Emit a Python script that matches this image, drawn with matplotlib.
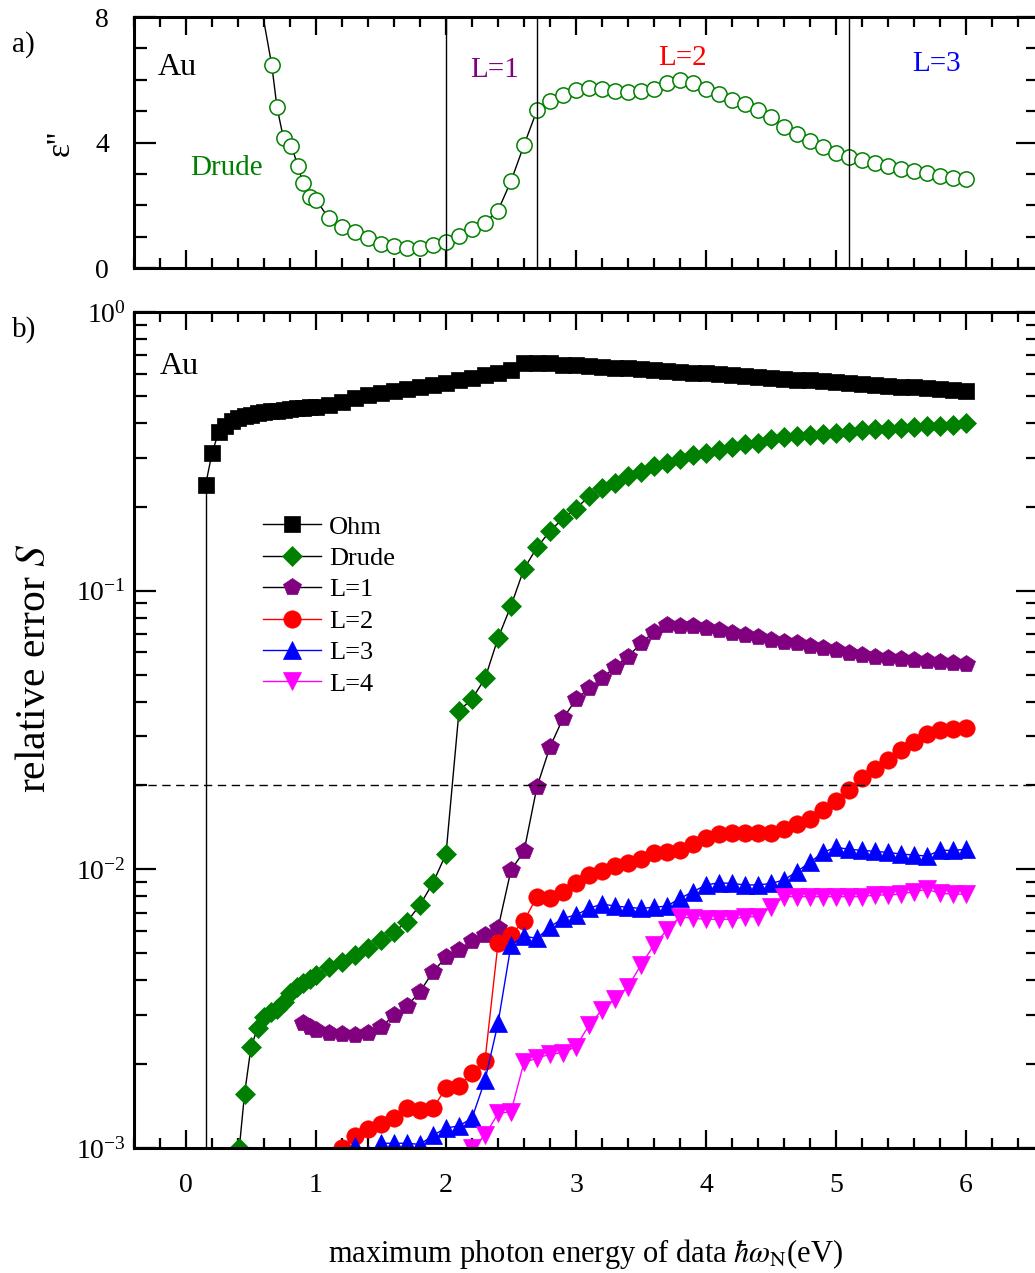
import numpy as np
import matplotlib
matplotlib.use('Agg')
import matplotlib.pyplot as plt
from matplotlib.ticker import MultipleLocator, LogLocator, NullFormatter

plt.rcParams['font.family'] = ['Liberation Serif', 'DejaVu Serif']
plt.rcParams['mathtext.fontset'] = 'stix'

# ---- data -----------------------------------------------------------------
# energy grid used above 1 eV (0.1 eV steps)
E_hi = [1.0, 1.1, 1.2, 1.3, 1.4, 1.5, 1.6, 1.7, 1.8, 1.9,
        2.0, 2.1, 2.2, 2.3, 2.4, 2.5, 2.6, 2.7, 2.8, 2.9,
        3.0, 3.1, 3.2, 3.3, 3.4, 3.5, 3.6, 3.7, 3.8, 3.9,
        4.0, 4.1, 4.2, 4.3, 4.4, 4.5, 4.6, 4.7, 4.8, 4.9,
        5.0, 5.1, 5.2, 5.3, 5.4, 5.5, 5.6, 5.7, 5.8, 5.9, 6.0]

# a) imaginary part of the dielectric function of Au
eps_E = [0.58, 0.66, 0.70, 0.75, 0.81, 0.86, 0.90, 0.95] + E_hi
eps2 = [8.3, 6.46, 5.12, 4.13, 3.90, 3.26, 2.70, 2.25,
        2.17, 1.58, 1.32, 1.14, 0.95, 0.76, 0.70, 0.63, 0.63, 0.73,
        0.84, 1.02, 1.23, 1.45, 1.83, 2.77, 3.92, 5.03, 5.33, 5.51,
        5.66, 5.74, 5.72, 5.64, 5.61, 5.64, 5.72, 5.91, 5.99, 5.91,
        5.72, 5.54, 5.37, 5.22, 5.05, 4.80, 4.50, 4.26, 4.04, 3.86,
        3.68, 3.54, 3.44, 3.35, 3.26, 3.17, 3.10, 3.02, 2.94, 2.88,
        2.83]
region_lines = [2.0, 2.7, 5.1]

# b) relative error S
ohm_E = [0.15, 0.2, 0.25, 0.3, 0.35, 0.4, 0.45, 0.5, 0.55, 0.6, 0.65,
         0.7, 0.75, 0.8, 0.85, 0.9, 0.95] + E_hi
ohm_S = [0.239, 0.311, 0.370, 0.390, 0.405, 0.415, 0.422, 0.428, 0.433,
         0.437, 0.440, 0.443, 0.446, 0.449, 0.451, 0.453, 0.455,
         0.457, 0.465, 0.477, 0.490, 0.502, 0.513, 0.520, 0.528, 0.537, 0.547,
         0.557, 0.568, 0.579, 0.592, 0.606, 0.620, 0.655, 0.657, 0.654, 0.648,
         0.644, 0.640, 0.636, 0.632, 0.628, 0.624, 0.619, 0.615, 0.611, 0.606,
         0.602, 0.598, 0.594, 0.589, 0.585, 0.581, 0.577, 0.572, 0.568, 0.564,
         0.560, 0.556, 0.552, 0.548, 0.544, 0.540, 0.536, 0.532, 0.528, 0.524,
         0.520]

drude_E = [0.41, 0.45, 0.5, 0.55, 0.6, 0.65, 0.7, 0.75, 0.8, 0.85, 0.9,
           0.95] + E_hi
drude_S = [1.0e-3, 1.56e-3, 2.30e-3, 2.69e-3, 2.96e-3, 3.08e-3, 3.15e-3,
           3.35e-3, 3.59e-3, 3.77e-3, 3.90e-3, 4.05e-3,
           4.18e-3, 4.45e-3, 4.66e-3, 4.92e-3, 5.21e-3, 5.58e-3, 5.97e-3,
           6.49e-3, 7.45e-3, 8.95e-3,
           0.01135, 0.0370, 0.0409, 0.0484, 0.0675, 0.0883, 0.1197, 0.143,
           0.1636, 0.1816,
           0.197, 0.218, 0.233, 0.244, 0.258, 0.267, 0.279, 0.286, 0.296, 0.307,
           0.313, 0.319, 0.328, 0.335, 0.340, 0.349, 0.355, 0.359, 0.362, 0.366,
           0.369, 0.372, 0.377, 0.379, 0.381, 0.385, 0.387, 0.389, 0.391, 0.393,
           0.398]

L1_E = [0.9, 0.95] + E_hi
L1_S = [2.80e-3, 2.72e-3,
        2.65e-3, 2.59e-3, 2.56e-3, 2.54e-3, 2.58e-3, 2.71e-3, 3.00e-3, 3.23e-3,
        3.64e-3, 4.29e-3,
        4.84e-3, 5.13e-3, 5.55e-3, 5.81e-3, 6.14e-3, 9.94e-3, 0.0116, 0.0198,
        0.0275, 0.0348,
        0.0407, 0.0446, 0.0484, 0.0533, 0.0580, 0.0647, 0.0712, 0.0753,
        0.0747, 0.0747,
        0.0732, 0.0723, 0.0707, 0.0693, 0.0680, 0.0665, 0.0656, 0.0647,
        0.0633, 0.0621,
        0.0612, 0.0599, 0.0590, 0.0580, 0.0574, 0.0567, 0.0564, 0.0559,
        0.0554, 0.0549,
        0.0546]

L2_E = E_hi[2:]
L2_S = [1.00e-3, 1.10e-3, 1.17e-3, 1.22e-3, 1.28e-3, 1.39e-3, 1.37e-3, 1.39e-3,
        1.64e-3, 1.67e-3, 1.86e-3, 2.06e-3, 5.42e-3, 5.81e-3, 6.54e-3, 7.98e-3,
        7.87e-3, 8.31e-3,
        8.90e-3, 9.55e-3, 9.89e-3, 0.0103, 0.0105, 0.0109, 0.0114, 0.0115,
        0.0117, 0.0123,
        0.0130, 0.0134, 0.0135, 0.0135, 0.0135, 0.0135, 0.0139, 0.0146,
        0.0152, 0.0163,
        0.0176, 0.0193, 0.0212, 0.0230, 0.0247, 0.0268, 0.0287, 0.0306,
        0.0316, 0.0318,
        0.0321]

L3_E = E_hi[3:]
L3_S = [1.02e-3, 0.95e-3, 1.04e-3, 1.04e-3, 1.04e-3, 1.03e-3, 1.11e-3,
        1.18e-3, 1.20e-3, 1.28e-3, 1.75e-3, 2.80e-3, 5.35e-3, 5.76e-3, 5.65e-3,
        6.22e-3, 6.67e-3,
        6.86e-3, 7.24e-3, 7.51e-3, 7.38e-3, 7.31e-3, 7.24e-3, 7.31e-3, 7.38e-3,
        7.87e-3, 8.31e-3,
        8.79e-3, 8.95e-3, 8.90e-3, 8.79e-3, 8.79e-3, 8.90e-3, 9.16e-3, 9.82e-3,
        0.0106, 0.0115,
        0.0120, 0.0118, 0.0117, 0.0116, 0.0115, 0.01135, 0.01125, 0.01116,
        0.0117, 0.0117,
        0.0118]

L4_E = E_hi[12:]
L4_S = [1.00e-3, 1.11e-3, 1.33e-3, 1.35e-3, 2.03e-3, 2.10e-3, 2.17e-3, 2.20e-3,
        2.31e-3, 2.76e-3, 3.13e-3, 3.42e-3, 3.79e-3, 4.54e-3, 5.35e-3, 6.06e-3,
        6.76e-3, 6.67e-3,
        6.62e-3, 6.62e-3, 6.62e-3, 6.76e-3, 6.76e-3, 7.34e-3, 7.98e-3, 7.98e-3,
        7.98e-3, 7.98e-3,
        7.98e-3, 7.98e-3, 7.98e-3, 8.09e-3, 8.09e-3, 8.15e-3, 8.31e-3, 8.48e-3,
        8.20e-3, 8.15e-3,
        8.15e-3]

S_limit = 0.02

# ---- figure ---------------------------------------------------------------
fig = plt.figure(figsize=(10.35, 12.73), dpi=100)
ax1 = fig.add_axes([0.12947, 0.78947, 0.87295, 0.19717])
ax2 = fig.add_axes([0.12947, 0.09819, 0.87295, 0.65672])

for ax in (ax1, ax2):
    for s in ax.spines.values():
        s.set_linewidth(2.2)
    ax.set_xlim(-0.4, 6.55)
    ax.xaxis.set_major_locator(MultipleLocator(1))
    ax.xaxis.set_minor_locator(MultipleLocator(0.2))
    ax.tick_params(which='both', direction='in', top=True, right=True,
                   width=1.6, labelsize=20)
    ax.tick_params(axis='x', which='major', length=13)
    ax.tick_params(axis='x', which='minor', length=7)
    ax.tick_params(axis='y', which='major', length=16)
    ax.tick_params(axis='y', which='minor', length=9)

# a)
ax1.plot(eps_E, eps2, '-', color='black', lw=1, marker='o', ms=11,
         mfc='white', mec='#008000', mew=1.1)
for x in region_lines:
    ax1.axvline(x, color='black', lw=1)
ax1.set_ylim(0, 8)
ax1.yaxis.set_major_locator(MultipleLocator(4))
ax1.yaxis.set_minor_locator(MultipleLocator(1))
ax1.tick_params(axis='x', labelbottom=False)
ax1.tick_params(axis='y', pad=18)
ax1.text(-0.22, 6.4, 'Au', fontsize=23, ha='left', va='center')
ax1.text(0.31, 3.2, 'Drude', fontsize=21, color='#008000', ha='center', va='center')
ax1.text(2.37, 6.3, 'L=1', fontsize=21, color='#800080', ha='center', va='center')
ax1.text(3.82, 6.7, 'L=2', fontsize=21, color='red', ha='center', va='center')
ax1.text(5.77, 6.5, 'L=3', fontsize=21, color='blue', ha='center', va='center')

# b)
series = [
    (ohm_E, ohm_S, 's', 'black', 'black', 'Ohm', 11),
    (drude_E, drude_S, 'D', '#008000', 'black', 'Drude', 10.5),
    (L1_E, L1_S, 'p', '#800080', 'black', 'L=1', 13),
    (L2_E, L2_S, 'o', 'red', 'red', 'L=2', 12.5),
    (L3_E, L3_S, '^', 'blue', 'blue', 'L=3', 12.5),
    (L4_E, L4_S, 'v', 'magenta', 'magenta', 'L=4', 12.5),
]
ax2.vlines(ohm_E[0], 1e-3, ohm_S[0], color='black', lw=1)
for E, S, m, mc, lc, lab, ms in series:
    ax2.plot(E, S, '-', color=lc, lw=1, marker=m, ms=ms, mfc=mc, mec=mc,
             mew=0.5, label=lab)
ax2.axhline(S_limit, color='black', lw=1, ls=(0, (6, 4)))
ax2.set_yscale('log')
ax2.set_ylim(1e-3, 1)
ax2.yaxis.set_major_locator(LogLocator(base=10, numticks=10))
ax2.yaxis.set_minor_locator(LogLocator(base=10, subs=np.arange(2, 10), numticks=10))
ax2.yaxis.set_minor_formatter(NullFormatter())
ax2.tick_params(axis='y', pad=6)
ax2.tick_params(axis='x', pad=18)
ax2.text(-0.2, 0.64, 'Au', fontsize=23, ha='left', va='center')

ax2.legend(loc='upper left', bbox_to_anchor=(0.143, 0.757), frameon=False,
           fontsize=19, handlelength=2.2, handletextpad=0.3,
           labelspacing=0.3, borderpad=0, borderaxespad=0)

ax2.set_xlabel(r'maximum photon energy of data $\hbar\omega_{\mathrm{N}}$(eV)',
               fontsize=22, labelpad=28)
fig.text(0.034, 0.475, r'relative error $S$', fontsize=30, rotation=90,
         ha='center', va='center')
fig.text(0.058, 0.888, "ε''", fontsize=24, rotation=90, ha='center', va='center')
fig.text(0.012, 0.965, 'a)', fontsize=21, ha='left', va='center')
fig.text(0.012, 0.741, 'b)', fontsize=21, ha='left', va='center')

fig.savefig('out.png', dpi=100)
